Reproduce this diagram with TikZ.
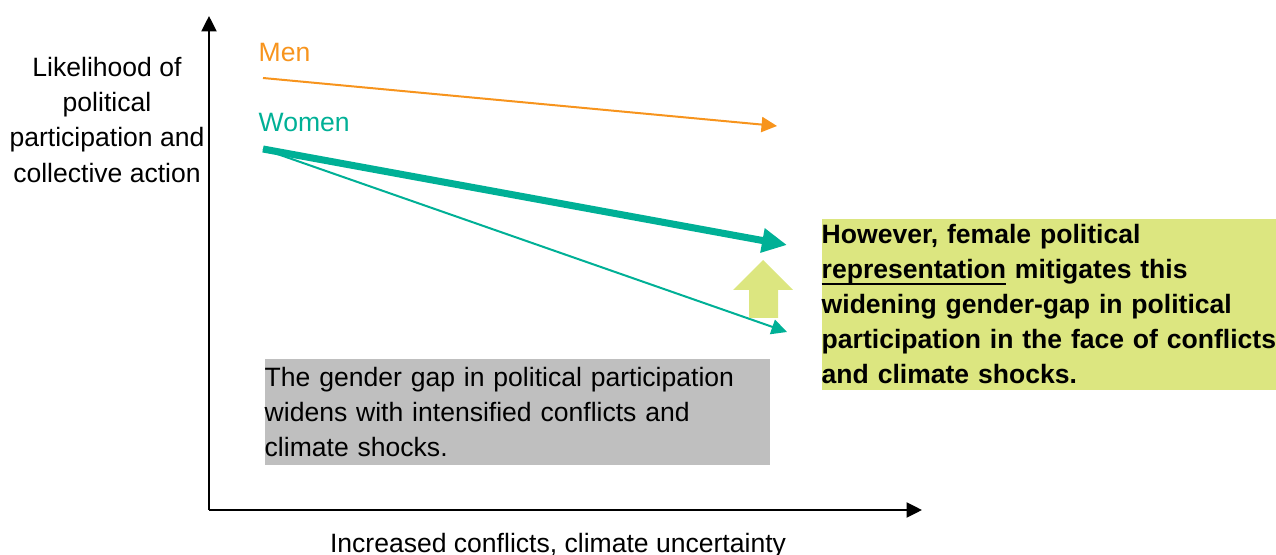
\documentclass[tikz,border=0pt]{standalone}
\usepackage{fontspec}
\setmainfont{Liberation Sans}
\usetikzlibrary{arrows.meta}
\definecolor{gapOrange}{HTML}{F7941D}
\definecolor{gapTeal}{HTML}{00B096}
\definecolor{gapLime}{HTML}{DCE680}
\definecolor{gapGray}{HTML}{BFBFBF}
\newcommand{\gapline}[1]{\leavevmode\setbox0\hbox{#1}\rlap{\rule[-1.9pt]{\wd0}{0.7pt}}\box0\relax}

\begin{document}
\begin{tikzpicture}[x=0.01cm,y=-0.01cm,
  every node/.style={inner sep=0pt,font=\fontsize{7.55}{9.96}\selectfont},
  axis/.style={line width=0.57pt,-{Triangle[length=4.4pt,width=4.3pt]}},
  trend/.style={line width=0.57pt,-{Triangle[length=4.4pt,width=4.3pt]}},
  textbox/.style={anchor=north west,align=left,inner xsep=0pt}]
\useasboundingbox (0,0) rectangle (1276,555);
\coordinate (origin) at (209,510);
\coordinate (ytop) at (209,16);
\coordinate (xend) at (922,510);
\draw[axis] (origin) -- (ytop);
\draw[axis] (origin) -- (xend);
\node[align=center] (ylabel) at (107,120) {Likelihood of\\political\\participation and\\collective action};
\node (xlabel) at (558,546) {Increased conflicts, climate uncertainty};
\node[anchor=west,text=gapOrange] (men) at (258,53) {Men};
\node[anchor=west,text=gapTeal] (women) at (258,123) {Women};
\coordinate (menstart) at (263,78);
\coordinate (menend) at (777,126);
\coordinate (womenstart) at (263,149);
\coordinate (womenrep) at (787,245);
\coordinate (womenend) at (787,332);
\draw[trend,gapOrange] (menstart) -- (menend);
\draw[trend,gapTeal] (womenstart) -- (womenend);
\draw[gapTeal,line width=2pt,-{Triangle[length=7.1pt,width=6.6pt]}] (womenstart) -- (womenrep);
\fill[gapLime] (763,260) -- (793,290) -- (778,290) -- (778,318) -- (749,318) -- (749,290) -- (733,290) -- cycle;
\node[textbox,fill=gapLime,text width=4.55cm,minimum height=1.71cm,font=\fontsize{7.55}{9.96}\selectfont\bfseries] (mitigate) at (821,218)
  {However, female political\\\gapline{representation} mitigates this\\widening gender-gap in political\\participation in the face of conflicts\\and climate shocks.};
\node[textbox,fill=gapGray,text width=5.05cm,minimum height=1.06cm] (widen) at (264,358)
  {The gender gap in political participation\\widens with intensified conflicts and\\climate shocks.};
\end{tikzpicture}
\end{document}
